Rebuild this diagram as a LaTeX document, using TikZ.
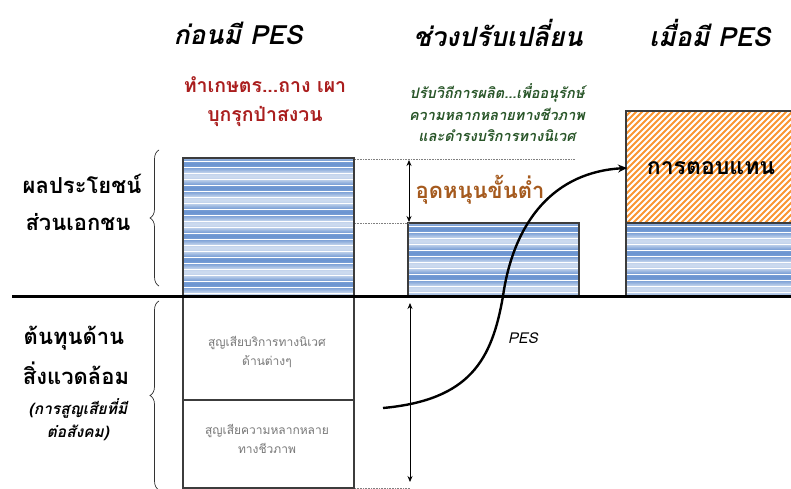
\documentclass[tikz,border=0pt]{standalone}
\usepackage{fontspec}
\newfontfamily\thai[Script=Thai]{Loma}
\usetikzlibrary{decorations.pathreplacing,arrows.meta}
\definecolor{sb}{RGB}{95,140,205}
\definecolor{hatchor}{RGB}{250,150,50}
\definecolor{redtxt}{RGB}{170,30,30}
\definecolor{greentxt}{RGB}{40,85,40}
\definecolor{browntxt}{RGB}{165,90,30}
\definecolor{graytxt}{RGB}{120,120,120}
\definecolor{boxline}{RGB}{60,60,60}
\newcommand\bluestripes[4]{%
  \begin{scope}
    \clip (#1,#2) rectangle (#3,#4);
    \foreach \i in {0,...,130}{%
      \pgfmathsetmacro\p{int(62+30*sin(\i*18))}%
      \fill[sb!\p!white] (#1,#2+\i*1.2) rectangle (#3,#2+\i*1.2+0.9);
    }
  \end{scope}}
\begin{document}
\begin{tikzpicture}[x=1pt,y=-1pt,font=\thai,
  title/.style={font=\thai\bfseries\itshape\fontsize{26.5}{28}\selectfont},
  side/.style={font=\thai\bfseries\fontsize{22}{24}\selectfont},
  sidesmall/.style={font=\thai\bfseries\itshape\fontsize{15.5}{17}\selectfont},
  boxtxt/.style={font=\thai\fontsize{12}{14}\selectfont,text=graytxt},
  frame/.style={draw=boxline,line width=1.1pt},
  dots/.style={densely dotted,line width=0.6pt,draw=gray},
  dbl/.style={{Stealth[length=6pt,width=5pt]}-{Stealth[length=6pt,width=5pt]},line width=0.8pt},
  brc/.style={decorate,decoration={brace,amplitude=9pt},line width=0.7pt,draw=black!80}]
\useasboundingbox (0,0) rectangle (791,489);
\fill[white] (0,0) rectangle (791,489);

% titles
\node[title] (t1) at (238,33) {ก่อนมี PES};
\node[title] (t2) at (498,33) {ช่วงปรับเปลี่ยน};
\node[title] (t3) at (710,33) {เมื่อมี PES};

% red text
\node[font=\thai\bfseries\fontsize{19.5}{21}\selectfont,text=redtxt] (r1) at (265,85) {ทำเกษตร...ถาง เผา};
\node[font=\thai\bfseries\fontsize{19.5}{21}\selectfont,text=redtxt] (r2) at (265,116) {บุกรุกป่าสงวน};

% green text
\node[font=\thai\bfseries\itshape\fontsize{14.5}{21.5}\selectfont,text=greentxt,align=center] (g1) at (497,113)
  {ปรับวิถีการผลิต...เพื่ออนุรักษ์\\ความหลากหลายทางชีวภาพ\\และดำรงบริการทางนิเวศ};

% box 1
\bluestripes{183}{158}{354}{296}
\node[frame,minimum width=171pt,minimum height=138pt,inner sep=0] (b1) at (268.5,227) {};
% box 2
\bluestripes{408}{223}{579}{296}
\node[frame,minimum width=171pt,minimum height=73pt,inner sep=0] (b2) at (493.5,259.5) {};
% box 3
\begin{scope}
  \clip (626,111) rectangle (800,223);
  \foreach \k in {0,6,...,320}{\draw[hatchor,line width=1.8pt] (626+\k-130,223+5) -- (626+\k+5,93);}
\end{scope}
\bluestripes{626}{223}{800}{296}
\draw[frame] (800,111) -- (626,111) -- (626,296);
\draw[frame] (626,223) -- (800,223);
\node[font=\thai\bfseries\fontsize{23}{25}\selectfont] (reward) at (711,168) {การตอบแทน};
\coordinate (b3in) at (627,168);

% lower boxes
\node[frame,minimum width=171pt,minimum height=104pt,inner sep=0] (c1) at (268.5,348) {};
\node[frame,minimum width=171pt,minimum height=88pt,inner sep=0] (c2) at (268.5,444) {};
\node[boxtxt,align=center] (c1t) at (267,352) {สูญเสียบริการทางนิเวศ\\[5pt]ด้านต่างๆ};
\node[boxtxt,align=center] (c2t) at (267,439) {สูญเสียความหลากหลาย\\[5pt]ทางชีวภาพ};

% axis line
\draw[line width=3pt] (12,296) -- (791,296);

% dotted guides
\draw[dots] (355,159) -- (575,159);
\draw[dots] (355,223) -- (408,223);
\draw[dots] (355,488) -- (410,488);

% double arrows
\coordinate (a1t) at (409,160);
\coordinate (a1b) at (409,222);
\draw[dbl] (a1t) -- (a1b);
\coordinate (a2t) at (410,303);
\coordinate (a2b) at (410,482);
\draw[dbl] (a2t) -- (a2b);

\node[font=\thai\bfseries\fontsize{22}{24}\selectfont,text=browntxt] (sub) at (480,190) {อุดหนุนขั้นต่ำ};

% PES curve
\coordinate (cs) at (383,408);
\coordinate (cm) at (503,296);
\draw[line width=2.4pt,-{Stealth[length=9pt,width=8pt]}] (cs) .. controls (470,400) and (492,360) .. (cm) .. controls (514,220) and (555,172) .. (b3in);
\node[font=\thai\itshape\fontsize{15}{17}\selectfont] (pes) at (523,338) {PES};

% side labels
\node[side] (s1) at (82,184) {ผลประโยชน์};
\node[side] (s2) at (78,222) {ส่วนเอกชน};
\node[side] (s3) at (74,338) {ต้นทุนด้าน};
\node[side] (s4) at (76,373) {สิ่งแวดล้อม};
\node[sidesmall] (s5) at (78,408) {(การสูญเสียที่มี};
\node[sidesmall] (s6) at (78,433) {ต่อสังคม)};

% braces
\coordinate (br1a) at (159,286);
\coordinate (br1b) at (159,150);
\draw[brc] (br1a) -- (br1b);
\coordinate (br2a) at (159,490);
\coordinate (br2b) at (159,301);
\draw[brc] (br2a) -- (br2b);
\end{tikzpicture}
\end{document}
